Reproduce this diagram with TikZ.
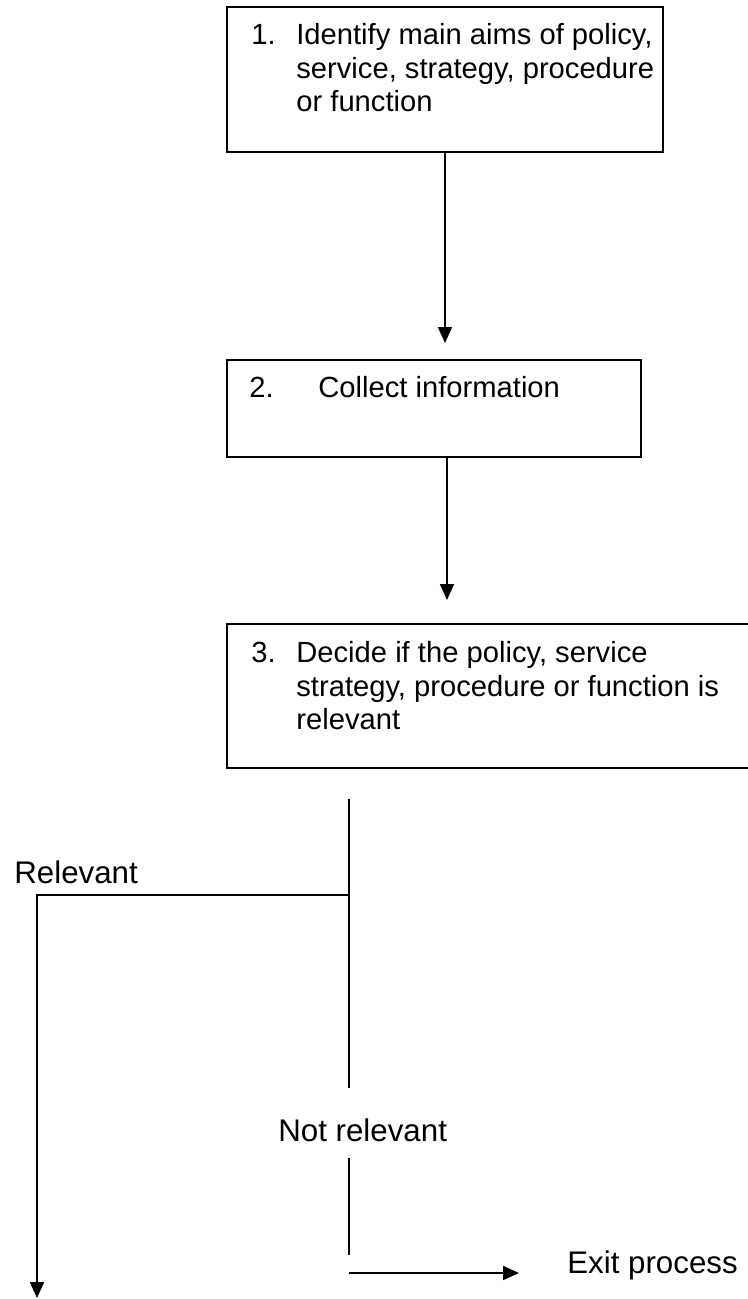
\documentclass[tikz,border=0pt]{standalone}
\usepackage{fontspec}
\setmainfont{Liberation Sans}
\usetikzlibrary{arrows.meta}

\begin{document}
\begin{tikzpicture}[
  stepbox/.style={draw, line width=1.1pt, rectangle, inner sep=0pt},
  steptext/.style={anchor=north west, inner sep=0pt, align=left, font=\fontsize{16.6}{19}\selectfont},
  lbl/.style={inner sep=0pt, anchor=base west, font=\fontsize{17.8}{21}\selectfont},
  flow/.style={line width=1.1pt, -{Triangle[length=3.2mm,width=2.8mm]}},
  link/.style={line width=0.7pt}
]
\useasboundingbox (0,0) rectangle (14.96,-25.98);
\node[stepbox, minimum width=8.72cm, minimum height=2.9cm] (s1) at (8.9,-1.59) {};
\node[steptext] (t1) at ([shift={(0.5,-0.3)}]s1.north west) {\begin{tabular}{@{}p{0.9cm}@{}l@{}}1. & Identify main aims of policy,\\ & service, strategy, procedure\\ & or function\end{tabular}};
\node[stepbox, minimum width=8.28cm, minimum height=1.94cm] (s2) at (8.68,-8.17) {};
\node[steptext] (t2) at ([shift={(0.46,-0.3)}]s2.north west) {\begin{tabular}{@{}p{1.38cm}@{}l@{}}2. & Collect information\end{tabular}};
\node[stepbox, minimum width=10.66cm, minimum height=2.88cm] (s3) at (9.87,-13.92) {};
\node[steptext] (t3) at ([shift={(0.5,-0.32)}]s3.north west) {\begin{tabular}{@{}p{0.9cm}@{}l@{}}3. & Decide if the policy, service\\ & strategy, procedure or function is\\ & relevant\end{tabular}};
\node[lbl] (rel) at (0.28,-17.66) {Relevant};
\node[lbl] (notrel) at (5.56,-22.82) {Not relevant};
\node[lbl] (exit) at (11.34,-25.46) {Exit process};
\coordinate (a1) at (8.9,-6.86);
\coordinate (a2) at (8.94,-12.0);
\coordinate (c1) at (6.98,-15.98);
\coordinate (fork) at (6.98,-17.9);
\coordinate (c2) at (6.98,-21.76);
\coordinate (c3) at (6.98,-23.16);
\coordinate (c4) at (6.98,-25.1);
\coordinate (c5) at (6.98,-25.46);
\coordinate (c6) at (10.38,-25.46);
\coordinate (relend) at (0.74,-25.96);
\draw[flow] (s1.south) -- (a1);
\draw[flow] (s2.south -| a2) -- (a2);
\draw[link] (c1) -- (c2);
\draw[flow] (fork) -| (relend);
\draw[link] (c3) -- (c4);
\draw[flow] (c5) -- (c6);
\end{tikzpicture}
\end{document}
